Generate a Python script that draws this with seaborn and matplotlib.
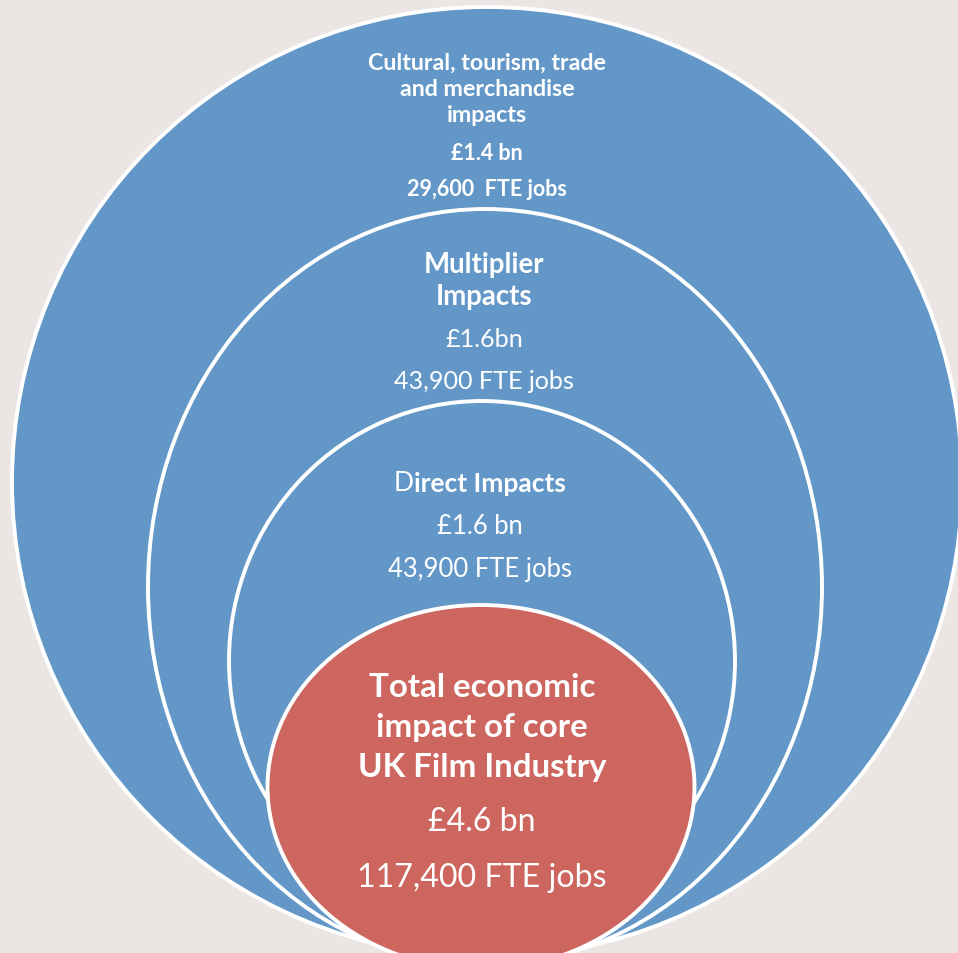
import matplotlib
matplotlib.use("Agg")
import matplotlib.pyplot as plt
from matplotlib.patches import Ellipse
import seaborn as sns

# ---- data ----
ring_names = ["Cultural, tourism, trade and merchandise impacts",
              "Multiplier Impacts", "Direct Impacts",
              "Total economic impact of core UK Film Industry"]
title_lines = [["Cultural, tourism, trade", "and merchandise", "impacts"],
               ["Multiplier", "Impacts"],
               ["Direct Impacts"],
               ["Total economic", "impact of core", "UK Film Industry"]]
value_labels = ["£1.4 bn", "£1.6bn", "£1.6 bn", "£4.6 bn"]
job_labels = ["29,600  FTE jobs", "43,900 FTE jobs", "43,900 FTE jobs", "117,400 FTE jobs"]

# ---- layout (pixels in a 958x954 frame) ----
ellipse_geom = [(487, 483, 950, 950),
                (485, 588, 674, 756),
                (482, 662, 506, 520),
                (481, 788, 427, 364)]
fill_colors = ["#6297C8", "#6297C8", "#6297C8", "#CD665F"]
text_cx = [487, 484, 480, 482]
title_y = [[63, 90, 115], [265, 297], [484], [688, 728, 768]]
value_y = [153, 340, 527, 822]
jobs_y = [190, 382, 570, 878]
# reference line and target width (px) used to size each group's fonts
title_fit = [("Cultural, tourism, trade", 239), ("Multiplier", 121), ("Direct Impacts", 172), ("UK Film Industry", 249)]
body_fit = [("29,600  FTE jobs", 161), ("43,900 FTE jobs", 180), ("43,900 FTE jobs", 183), ("117,400 FTE jobs", 249)]
body_weight = ["bold", "normal", "normal", "normal"]

sns.set_theme(style="white")
FONT = ["Lato", "DejaVu Sans"]
plt.rcParams["font.family"] = FONT

W, H = 958, 954
fig = plt.figure(figsize=(W / 100, H / 100), dpi=100)
bg = "#EBE6E3"
fig.patch.set_facecolor(bg)
ax = fig.add_axes([0, 0, 1, 1])
ax.set_facecolor(bg)
ax.set_xlim(0, W)
ax.set_ylim(H, 0)
ax.axis("off")

for (cx, cy, w, h), col in zip(ellipse_geom, fill_colors):
    ax.add_patch(Ellipse((cx, cy), w, h, facecolor=col, edgecolor="white", linewidth=2.8))

fig.canvas.draw()
rend = fig.canvas.get_renderer()


def width_px(s, size, weight):
    t = ax.text(0, 0, s, fontsize=size, fontweight=weight)
    w = t.get_window_extent(rend).width
    t.remove()
    return w


def fit(s, target, weight):
    return 10 * target / width_px(s, 10, weight)


for i in range(4):
    ts = fit(title_fit[i][0], title_fit[i][1], "bold")
    bs = fit(body_fit[i][0], body_fit[i][1], body_weight[i])
    cx = text_cx[i]
    for line, y in zip(title_lines[i], title_y[i]):
        if line.startswith("Direct"):
            # "D" regular, rest bold, as in the reference
            wd = width_px("D", ts, "normal")
            wr = width_px("irect Impacts", ts, "bold")
            x0 = cx - (wd + wr) / 2
            ax.text(x0, y, "D", fontsize=ts, fontweight="normal", color="white", ha="left", va="center")
            ax.text(x0 + wd, y, "irect Impacts", fontsize=ts, fontweight="bold", color="white", ha="left", va="center")
        else:
            ax.text(cx, y, line, fontsize=ts, fontweight="bold", color="white", ha="center", va="center")
    ax.text(cx, value_y[i], value_labels[i], fontsize=bs, fontweight=body_weight[i], color="white", ha="center", va="center")
    ax.text(cx, jobs_y[i], job_labels[i], fontsize=bs, fontweight=body_weight[i], color="white", ha="center", va="center")

fig.savefig("out.png", dpi=100, facecolor=bg)
